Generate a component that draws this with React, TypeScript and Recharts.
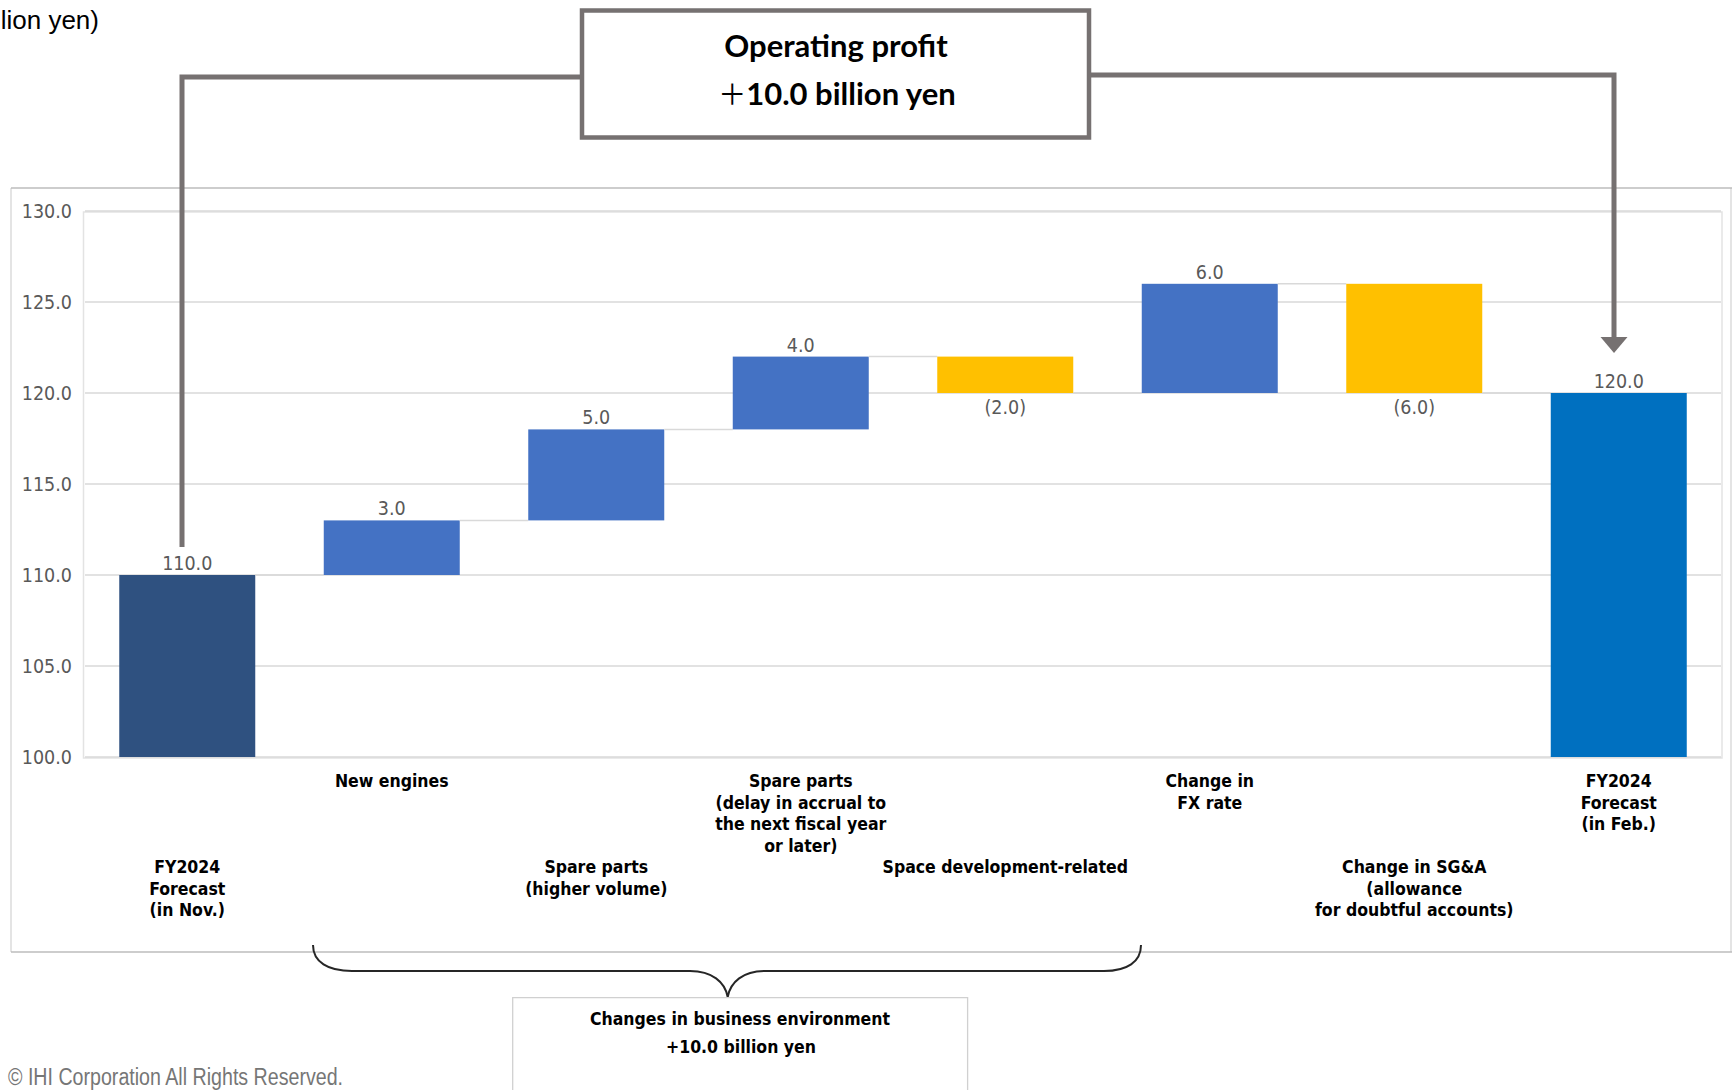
import React from 'react';
import { BarChart, Bar, XAxis, YAxis, CartesianGrid } from 'recharts';

const W = 1732;
const H = 1090;

// ---- data ----
const categoryKeys = ['nov', 'engines', 'spareVolume', 'spareDelay', 'space', 'fx', 'sga', 'feb'];
const categoryLabels: string[][] = [
  ['FY2024', 'Forecast', '(in Nov.)'],
  ['New engines'],
  ['Spare parts', '(higher volume)'],
  ['Spare parts', '(delay in accrual to', 'the next fiscal year', 'or later)'],
  ['Space development-related'],
  ['Change in', 'FX rate'],
  ['Change in SG&A', '(allowance', 'for doubtful accounts)'],
  ['FY2024', 'Forecast', '(in Feb.)'],
];
const openingTotal = 110.0;
const changes = [3.0, 5.0, 4.0, -2.0, 6.0, -6.0];
const closingTotal = 120.0;
const yTicks = [100, 105, 110, 115, 120, 125, 130];
const AXIS_MIN = 100;
const AXIS_MAX = 130;

// ---- styles ----
const BAR_COLORS: Record<string, string> = {
  start: '#2F5180',
  up: '#4472C4',
  down: '#FFC000',
  final: '#0070C0',
};
// share of each category band left empty beside its bar (split evenly on both sides)
const CATEGORY_GAP = 0.335;
const NUM_FONT = "'DejaVu Sans Condensed', 'DejaVu Sans', sans-serif";
const LABEL_FONT = "'DejaVu Sans Condensed', 'DejaVu Sans', sans-serif";
const CONNECTOR = '#767171';

type Row = {
  key: string;
  range: [number, number];
  value: number;
  kind: 'start' | 'up' | 'down' | 'final';
};

const rows: Row[] = (() => {
  const out: Row[] = [];
  out.push({ key: categoryKeys[0], range: [AXIS_MIN, openingTotal], value: openingTotal, kind: 'start' });
  let running = openingTotal;
  changes.forEach((d, i) => {
    const from = running;
    running = running + d;
    out.push({
      key: categoryKeys[i + 1],
      range: [Math.min(from, running), Math.max(from, running)],
      value: d,
      kind: d >= 0 ? 'up' : 'down',
    });
  });
  out.push({ key: categoryKeys[7], range: [AXIS_MIN, closingTotal], value: closingTotal, kind: 'final' });
  return out;
})();

const WaterfallBar = (props: any) => {
  const { x, y, width, height, payload, index } = props;
  const top = Math.min(y, y + height);
  const h = Math.abs(height);
  const row: Row = payload;
  const gap = (width * CATEGORY_GAP) / (1 - CATEGORY_GAP);
  const endY = row.kind === 'down' ? top + h : top;
  const isDown = row.kind === 'down';
  const label = isDown ? `(${Math.abs(row.value).toFixed(1)})` : row.value.toFixed(1);
  const labelY = isDown ? top + h + 21 : top - 5;
  return (
    <g>
      <rect x={x} y={top} width={width} height={h} fill={BAR_COLORS[row.kind]} />
      {index < rows.length - 1 && (
        <line x1={x + width} x2={x + width + gap} y1={endY} y2={endY} stroke="#D9D9D9" strokeWidth={1.5} />
      )}
      <text
        x={x + width / 2}
        y={labelY}
        textAnchor="middle"
        fontFamily={NUM_FONT}
        fontSize={19.5}
        fill="#595959"
      >
        {label}
      </text>
    </g>
  );
};

const CategoryTick = (props: any) => {
  const { x, y, payload } = props;
  const idx = categoryKeys.indexOf(payload.value);
  const lines = categoryLabels[idx] || [];
  const baseY = idx % 2 === 1 ? y + 30 : y + 116;
  return (
    <text
      x={x}
      y={baseY}
      textAnchor="middle"
      fontFamily={LABEL_FONT}
      fontWeight="bold"
      fontSize={17.5}
      fill="#000"
    >
      {lines.map((l, i) => (
        <tspan key={i} x={x} dy={i === 0 ? 0 : 21.5}>
          {l}
        </tspan>
      ))}
    </text>
  );
};

const ValueTick = (props: any) => {
  const { y, payload } = props;
  return (
    <text x={72} y={y + 7} textAnchor="end" fontFamily={NUM_FONT} fontSize={19.5} fill="#595959">
      {Number(payload.value).toFixed(1)}
    </text>
  );
};

const Backdrop = () => (
  <svg width={W} height={H} style={{ position: 'absolute', left: 0, top: 0 }}>
    <rect x={0} y={0} width={W} height={H} fill="#fff" />
    {/* outer panel */}
    <line x1={11} y1={188} x2={11} y2={952} stroke="#D6D6D6" strokeWidth={1.3} />
    <line x1={1731} y1={188} x2={1731} y2={952} stroke="#D6D6D6" strokeWidth={1.3} />
    <line x1={11} y1={188} x2={W} y2={188} stroke="#BDBDBD" strokeWidth={1.3} />
    <line x1={11} y1={952} x2={W} y2={952} stroke="#BDBDBD" strokeWidth={1.3} />
    {/* plot area border */}
    <rect x={83.5} y={212} width={1638.5} height={546} fill="none" stroke="#E3E3E3" strokeWidth={1.5} />
  </svg>
);

const Annotations = () => (
  <svg width={W} height={H} style={{ position: 'absolute', left: 0, top: 0, pointerEvents: 'none' }}>
    {/* unit caption */}
    <text x={99} y={29} textAnchor="end" fontFamily="'Liberation Sans', Arial, sans-serif" fontSize={26} fill="#000">
      (billion yen)
    </text>

    {/* bracket lines from the headline box */}
    <path d="M582 77 H182 V547" fill="none" stroke={CONNECTOR} strokeWidth={5} />
    <path d="M1090 75 H1614 V339" fill="none" stroke={CONNECTOR} strokeWidth={5} />
    <polygon points="1600.5,337 1627.5,337 1614,353" fill={CONNECTOR} />

    {/* headline box */}
    <rect x={582} y={10.5} width={507} height={127} fill="#fff" stroke={CONNECTOR} strokeWidth={4.5} />
    <text x={836} y={57} textAnchor="middle" fontFamily="Lato, 'Open Sans', sans-serif" fontWeight="bold" fontSize={31} fill="#000">
      Operating profit
    </text>
    <text x={837} y={105} textAnchor="middle" fontFamily="Lato, 'Open Sans', sans-serif" fontWeight="bold" fontSize={31} fill="#000">
      <tspan fontFamily="'Noto Sans CJK JP', sans-serif" fontWeight="normal" fontSize={28}>＋</tspan>
      <tspan>10.0 billion yen</tspan>
    </text>

    {/* curly brace under business-environment items */}
    <path
      d="M313 945 C313 962 328 971 352 971 L690 971 C712 971 725 982 727.7 997 C730.4 982 743 971 765 971 L1104 971 C1127 971 1141 962 1141 945"
      fill="none"
      stroke="#262626"
      strokeWidth={2}
    />
    <path d="M512.7 1090 V997.7 H967.6 V1090" fill="none" stroke="#D0D0D0" strokeWidth={1.3} />
    <text x={740} y={1025} textAnchor="middle" fontFamily={LABEL_FONT} fontWeight="bold" fontSize={17.5} fill="#000">
      Changes in business environment
    </text>
    <text x={741} y={1053} textAnchor="middle" fontFamily={LABEL_FONT} fontWeight="bold" fontSize={17.5} fill="#000">
      +10.0 billion yen
    </text>

    {/* footer */}
    <text
      x={8}
      y={1085}
      fontFamily="'Liberation Sans Narrow', 'Liberation Sans', Arial, sans-serif"
      fontSize={23}
      fill="#767676"
      textLength={335}
      lengthAdjust="spacingAndGlyphs"
    >
      © IHI Corporation All Rights Reserved.
    </text>
  </svg>
);

export default function App() {
  return (
    <div style={{ position: 'absolute', left: 0, top: 0, width: W, height: H, overflow: 'hidden', background: '#fff' }}>
      <Backdrop />
      <div style={{ position: 'absolute', left: 0, top: 0 }}>
        <BarChart
          width={W}
          height={H}
          data={rows}
          margin={{ top: 211, right: 11, bottom: 133, left: 0 }}
          barCategoryGap={`${(CATEGORY_GAP * 100) / 2}%`}
        >
          <CartesianGrid vertical={false} stroke="#D9D9D9" strokeWidth={1.5} />
          <XAxis
            dataKey="key"
            axisLine={false}
            tickLine={false}
            tickSize={0}
            tickMargin={0}
            interval={0}
            height={200}
            tick={<CategoryTick />}
          />
          <YAxis
            domain={[AXIS_MIN, AXIS_MAX]}
            ticks={yTicks}
            allowDataOverflow
            axisLine={false}
            tickLine={false}
            width={85}
            tick={<ValueTick />}
          />
          <Bar dataKey="range" shape={<WaterfallBar />} isAnimationActive={false} />
        </BarChart>
      </div>
      <Annotations />
    </div>
  );
}
